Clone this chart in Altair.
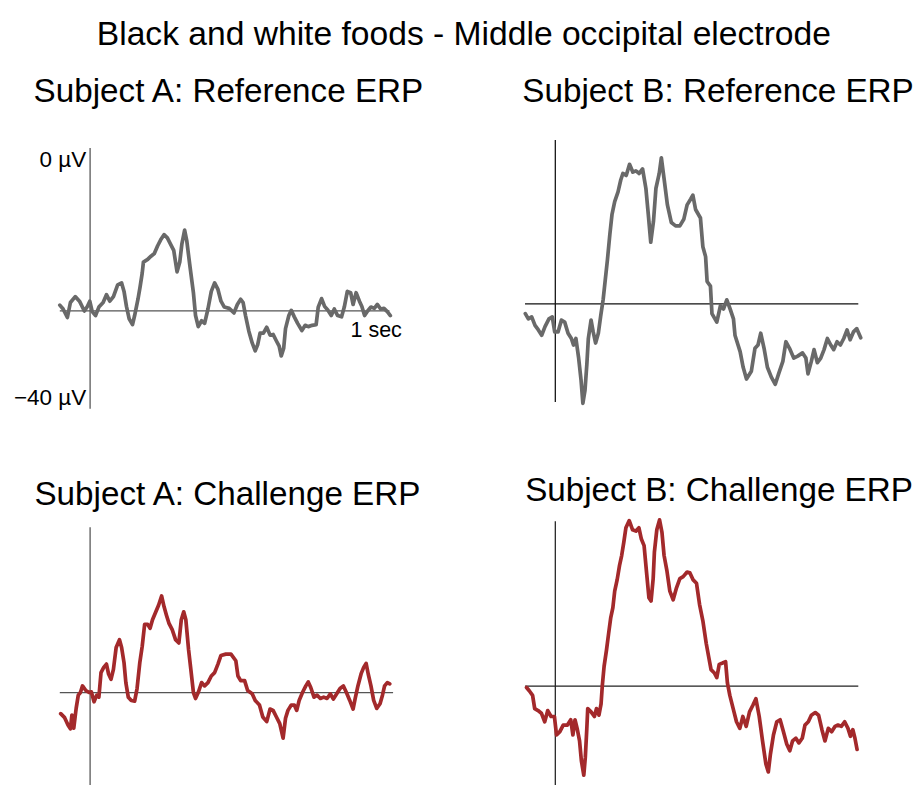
import altair as alt
import pandas as pd

FONT = "Liberation Sans"
GRAY = "#696969"
RED = "#a3292b"

# Subject A: Reference ERP (time in ms, amplitude in µV relative to baseline)
refA_ms = [-100, -89, -75, -65, -49, -35, -19, -9, -1, 7, 18, 29, 43, 54, 65, 77, 91, 104, 112, 120,
           129, 140, 147, 158, 165, 172, 176, 190, 201, 212, 223, 233, 244, 255, 265, 276, 287, 296, 303, 312,
           319, 330, 341, 348, 357, 368, 378, 389, 400, 411, 422, 432, 443, 459, 475, 486, 497, 505, 513, 524,
           535, 545, 553, 561, 572, 583, 594, 604, 615, 624, 631, 639, 645, 656, 664, 674, 685, 699, 710, 720,
           733, 746, 753, 764, 774, 785, 796, 806, 817, 830, 839, 849, 860, 868, 878, 889, 897, 906, 916, 927,
           938, 948, 959, 970, 981, 991]
refA_uv = [0.9, 0.3, -1.0, 1.3, 2.2, 1.5, 0.0, 0.7, 1.5, -0.1, -0.7, 0.6, 1.3, 2.5, 1.5, 2.2, 4.0, 4.3, 3.0, 0.7,
           -1.2, -2.1, -0.7, 1.8, 3.7, 5.8, 7.5, 7.9, 8.4, 8.8, 10.0, 10.9, 11.7, 11.2, 10.3, 9.3, 6.0, 7.5, 10.3, 12.4,
           10.8, 6.7, 2.8, -0.7, -2.4, -1.5, -1.9, 0.3, 3.0, 4.3, 3.3, 1.5, 0.6, 0.4, -0.3, 1.0, 1.8, 1.3, -0.7, -3.1,
           -4.9, -6.1, -5.2, -3.4, -3.4, -2.5, -3.7, -3.6, -4.6, -5.4, -6.9, -5.7, -2.7, -0.7, 0.1, -0.9, -1.9, -3.0, -2.2, -2.4,
           -2.2, -2.1, 0.6, 1.9, 0.7, 0.1, -0.7, 0.3, -0.7, -0.9, 0.6, 3.0, 2.8, 1.0, 2.8, 1.5, 0.7, -0.7, 0.0, 0.6,
           0.4, 1.0, 0.3, 0.4, -0.1, -0.7]

# Subject B: Reference ERP
refB_ms = [-99, -89, -78, -67, -56, -45, -34, -21, -10, -2, 9, 20, 31, 42, 53, 60, 68, 77, 85, 91,
           98, 104, 109, 118, 125, 133, 142, 150, 158, 165, 172, 180, 187, 196, 207, 216, 223, 234, 245, 256,
           266, 277, 288, 299, 307, 315, 324, 332, 343, 350, 359, 370, 383, 397, 411, 424, 435, 447, 454, 463,
           479, 487, 496, 501, 512, 517, 533, 545, 555, 566, 577, 588, 593, 610, 620, 631, 647, 659, 669, 678,
           689, 700, 713, 726, 737, 751, 761, 773, 787, 800, 816, 827, 834, 845, 854, 865, 876, 887, 898, 909,
           919, 930, 941, 952, 963, 973, 984, 995, 1008]
refB_uv = [-1.5, -2.3, -2.0, -3.3, -4.0, -4.8, -3.5, -2.3, -2.0, -4.3, -4.3, -2.5, -2.8, -4.5, -5.3, -6.3, -5.3, -8.3, -11.7, -15.2,
           -13.2, -9.3, -5.3, -2.5, -4.3, -6.0, -4.5, -1.8, 0.7, 3.7, 6.7, 10.6, 13.6, 15.6, 17.1, 18.9, 19.9, 19.6, 21.3, 20.1,
           20.3, 19.9, 20.6, 17.6, 13.6, 9.4, 12.6, 17.6, 19.9, 22.3, 19.1, 15.1, 12.4, 11.9, 11.9, 12.9, 15.1, 16.0, 16.6, 14.4,
           13.1, 8.7, 7.2, 3.4, 2.7, -1.5, -2.8, -0.3, -0.8, 0.6, -0.8, -2.3, -4.8, -7.3, -9.7, -11.5, -10.3, -6.8, -6.3, -4.5,
           -6.8, -9.7, -11.2, -12.3, -10.7, -8.8, -5.8, -6.8, -8.3, -8.0, -7.5, -8.3, -10.7, -8.8, -7.0, -9.0, -8.3, -7.0, -5.3, -6.3,
           -7.0, -5.8, -6.3, -5.3, -4.0, -5.5, -4.3, -3.8, -5.2]

# Subject A: Challenge ERP
chA_ms = [-97, -84, -73, -65, -60, -54, -46, -39, -32, -25, -14, -3, 4, 13, 22, 29, 36, 45, 54, 61,
          69, 77, 86, 97, 104, 112, 118, 126, 136, 147, 155, 164, 172, 180, 190, 198, 206, 217, 226, 236,
          244, 252, 260, 271, 282, 293, 301, 309, 316, 325, 333, 341, 348, 357, 368, 378, 389, 400, 411, 422,
          432, 448, 465, 481, 488, 497, 510, 520, 535, 545, 559, 570, 583, 594, 604, 615, 626, 637, 645, 653,
          664, 674, 682, 690, 701, 712, 720, 728, 739, 749, 760, 771, 782, 793, 803, 814, 825, 836, 846, 857,
          868, 875, 884, 895, 903, 911, 918, 927, 936, 946, 957, 965, 972, 981, 989]
chA_uv = [-3.2, -3.8, -4.9, -5.5, -3.4, -5.4, -2.4, -0.4, 0.0, 1.0, 0.3, 0.0, 0.1, -1.4, -0.4, -0.7, 3.0, 3.8, 4.3, 2.8,
          2.0, 3.5, 6.8, 8.0, 6.8, 4.5, 1.5, -0.7, -1.2, -1.3, 0.6, 4.5, 7.0, 10.3, 10.3, 9.7, 11.0, 12.2, 13.2, 14.6,
          13.0, 11.7, 10.5, 9.5, 8.0, 7.5, 11.0, 12.2, 11.0, 6.5, 3.3, 0.0, -0.9, 0.0, 1.5, 1.0, 1.5, 2.5, 3.0, 4.3,
          5.6, 5.8, 5.8, 4.8, 2.5, 1.8, 1.8, 0.3, -0.2, -1.2, -1.9, -3.7, -4.4, -2.5, -2.7, -3.7, -4.7, -6.9, -3.9, -2.7,
          -1.9, -1.9, -2.7, -1.2, 0.0, 1.0, 1.6, 0.8, -0.7, -0.4, -0.9, -0.7, -0.9, -0.2, -1.0, -0.2, 0.6, 1.0, 0.0, -1.2,
          -2.5, -0.9, 1.0, 2.9, 3.8, 4.4, 2.8, 1.0, -1.2, -2.4, -1.7, -0.4, 1.0, 1.5, 1.3]

# Subject B: Challenge ERP
chB_ms = [-95, -86, -75, -68, -57, -46, -35, -25, -14, -3, 4, 15, 26, 40, 51, 58, 65, 72, 80, 86,
          94, 99, 104, 107, 118, 129, 136, 144, 151, 155, 161, 169, 176, 183, 190, 196, 204, 212, 219, 226,
          233, 244, 255, 266, 276, 284, 293, 301, 309, 316, 323, 327, 335, 344, 352, 359, 368, 378, 389, 400,
          411, 422, 435, 444, 455, 466, 476, 487, 498, 506, 514, 525, 533, 541, 552, 562, 568, 576, 587, 598,
          609, 619, 630, 641, 652, 662, 673, 684, 695, 703, 710, 720, 731, 742, 753, 764, 774, 783, 794, 804,
          815, 824, 835, 845, 858, 869, 880, 890, 901, 912, 923, 933, 944, 955, 966, 974, 982, 989, 996]
chB_uv = [-0.2, -0.7, -1.4, -3.4, -3.7, -4.1, -5.4, -3.7, -4.6, -4.6, -7.4, -6.9, -5.9, -5.9, -5.1, -7.4, -5.1, -6.4, -8.3, -11.3,
          -13.5, -10.8, -6.4, -3.4, -3.9, -4.6, -3.4, -4.4, -2.7, 0.0, 3.0, 5.5, 8.0, 10.4, 11.9, 14.4, 16.1, 18.3, 19.8, 21.8,
          24.0, 25.1, 23.7, 23.5, 24.0, 22.3, 21.3, 17.3, 13.4, 12.9, 16.3, 20.3, 23.7, 25.2, 23.3, 19.8, 17.6, 14.4, 13.1, 14.9,
          16.3, 16.6, 17.3, 17.2, 16.1, 15.6, 12.4, 9.9, 6.5, 4.5, 2.5, 2.0, 1.3, 3.3, 3.5, 3.7, 0.5, -1.4, -3.4, -5.4,
          -6.4, -4.6, -6.1, -3.9, -2.9, -1.9, -4.6, -8.3, -11.8, -13.0, -10.3, -7.4, -5.4, -5.1, -6.9, -8.8, -9.8, -8.3, -7.9, -8.6,
          -7.9, -5.9, -5.4, -4.4, -4.0, -4.4, -6.6, -8.3, -6.4, -6.9, -6.1, -5.9, -6.1, -5.4, -6.4, -7.6, -6.6, -7.9, -9.6]

TITLE = "Black and white foods - Middle occipital electrode"
T_DOMAIN = [-100, 1000]


def panel(ms, uv, color, title, ybot, ytop, height, hline_end, axis_color, labels=False,
          title_dx=0, title_offset=20):
    xs = alt.Scale(domain=T_DOMAIN, nice=False, zero=False)
    ys = alt.Scale(domain=[ybot, ytop], nice=False, zero=False)
    x = alt.X("ms:Q", scale=xs, axis=None)
    y = alt.Y("uv:Q", scale=ys, axis=None)

    trace = alt.Chart(pd.DataFrame({"ms": ms, "uv": uv})).mark_line(
        color=color, strokeWidth=3.8, strokeJoin="round", strokeCap="round"
    ).encode(x=x, y=y)

    hrule = alt.Chart(pd.DataFrame({"ms": [-100], "ms2": [hline_end], "uv": [0]})).mark_rule(
        color=axis_color, strokeWidth=1.3
    ).encode(x=x, x2="ms2:Q", y=y)

    vrule = alt.Chart(pd.DataFrame({"ms": [0], "uv": [ybot], "uv2": [25]})).mark_rule(
        color=axis_color, strokeWidth=1.3
    ).encode(x=x, y=y, y2="uv2:Q")

    layers = [hrule, vrule, trace]
    if labels:
        top_lbl = alt.Chart(pd.DataFrame({"ms": [0], "uv": [25], "label": ["0 µV"]})).mark_text(
            align="right", baseline="top", dx=-4, dy=2, fontSize=23, font=FONT, color="#000"
        ).encode(x=x, y=y, text="label:N")
        bot_lbl = alt.Chart(pd.DataFrame({"ms": [0], "uv": [-15], "label": ["\u221240 µV"]})).mark_text(
            align="right", baseline="bottom", dx=-4, dy=1, fontSize=23, font=FONT, color="#000"
        ).encode(x=x, y=y, text="label:N")
        sec_lbl = alt.Chart(pd.DataFrame({"ms": [1000], "uv": [0], "label": ["1 sec"]})).mark_text(
            align="right", baseline="top", dx=9, dy=10, fontSize=22, font=FONT, color="#000"
        ).encode(x=x, y=y, text="label:N")
        layers += [top_lbl, bot_lbl, sec_lbl]

    return alt.layer(*layers).properties(
        width=341, height=height,
        title=alt.TitleParams(text=title, fontSize=34, font=FONT, fontWeight="normal",
                              color="#000", dx=title_dx, offset=title_offset, anchor="middle"),
    )


pA = panel(refA_ms, refA_uv, GRAY, "Subject A: Reference ERP", -15, 26.5, 277, 988, "#555555",
           labels=True, title_dx=2, title_offset=30)
pB = panel(refB_ms, refB_uv, GRAY, "Subject B: Reference ERP", -15, 25.3, 270, 1000, "#111111",
           title_dx=27, title_offset=30)
pC = panel(chA_ms, chA_uv, RED, "Subject A: Challenge ERP", -14, 25.9, 270, 1000, "#555555",
           title_dx=1, title_offset=10)
pD = panel(chB_ms, chB_uv, RED, "Subject B: Challenge ERP", -15, 25, 270, 1000, "#222222",
           title_dx=28, title_offset=10)

chart = alt.concat(
    pA, pB, pC, pD, columns=2, spacing={"row": 115, "column": 135}, bounds="flush",
).properties(
    title=alt.TitleParams(text=TITLE, fontSize=34.4, font=FONT, fontWeight="normal",
                          color="#000", anchor="middle", offset=24, dx=0),
    padding={"left": 6, "top": 0, "right": 0, "bottom": 0},
).configure(font=FONT).configure_view(stroke=None)

chart.save("out.html", embed_options={"renderer": "svg", "actions": False})
